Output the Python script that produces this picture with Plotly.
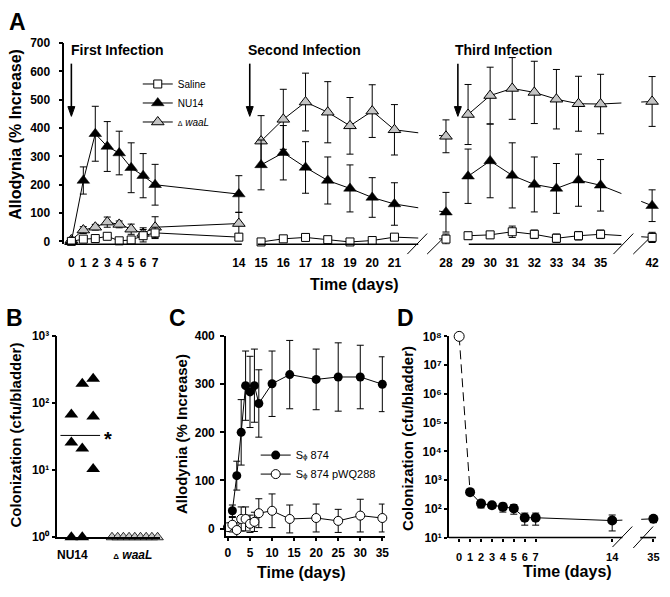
import numpy as np
import plotly.graph_objects as go

W, H = 670, 597
FONT = "Liberation Sans, Arial, sans-serif"


def fx(p):
    return p / W


def fy(p):
    return 1 - p / H


# ======================= DATA =======================
# Panel A - allodynia (% increase) across three infections
a_days_1 = [0, 1, 2, 3, 4, 5, 6, 7, 14]
a_saline_1 = [0, 8, 10, 18, 2, 5, 20, 30, 15]
a_saline_1_err = [0, 5, 5, 8, 5, 8, 22, 20, 12]
a_nu14_1 = [0, 215, 380, 335, 312, 260, 232, 200, 167]
a_nu14_1_err = [0, 48, 97, 88, 77, 88, 78, 72, 65]
a_waal_1 = [5, 40, 50, 68, 60, 43, 28, 50, 63]
a_waal_1_err = [0, 12, 10, 18, 12, 18, 20, 37, 40]

a_days_2 = [15, 16, 17, 18, 19, 20, 21, 28]
a_saline_2 = [-2, 9, 14, 6, -2, 3, 15, 8]
a_saline_2_err = [5, 8, 8, 8, 5, 10, 8, 18]
a_nu14_2 = [270, 313, 261, 215, 187, 155, 132, 103]
a_nu14_2_err = [88, 96, 91, 83, 83, 70, 75, 70]
a_waal_2 = [354, 431, 492, 456, 408, 460, 394, 371]
a_waal_2_err = [90, 106, 102, 108, 100, 93, 89, 58]

a_days_3 = [29, 30, 31, 32, 33, 34, 35, 42]
a_saline_3 = [20, 23, 34, 25, 11, 20, 25, 14]
a_saline_3_err = [12, 12, 20, 15, 15, 15, 15, 18]
a_nu14_3 = [230, 284, 233, 201, 187, 216, 198, 126]
a_nu14_3_err = [96, 130, 115, 97, 88, 92, 91, 56]
a_waal_3 = [448, 515, 540, 526, 502, 486, 485, 494]
a_waal_3_err = [106, 100, 109, 110, 105, 97, 105, 88]

a_tick_days = [0, 1, 2, 3, 4, 5, 6, 7, 14, 15, 16, 17, 18, 19, 20, 21,
               28, 29, 30, 31, 32, 33, 34, 35, 42]
a_yticks = [0, 100, 200, 300, 400, 500, 600, 700]
a_infection_labels = ["First Infection", "Second Infection", "Third Infection"]

# Panel B - colonization at end point
b_groups = ["NU14", "Δ waaL"]
b_nu14 = [68, 194, 231, 63, 26, 21, 10.4, 1, 1]
b_nu14_col = [0, 1, 2, 2, 0, 1, 2, 0, 1]
b_waal = [1, 1, 1, 1, 1, 1, 1, 1, 1]
b_nu14_center = 33
b_yticks = [1, 10, 100, 1000]

# Panel C - allodynia, S-phi 874 vs S-phi 874 pWQ288
c_days_s874 = [1, 2, 3, 4, 5, 6, 7, 10, 14, 20, 25, 30, 35]
c_s874 = [37, 110, 200, 297, 284, 297, 260, 301, 320, 310, 315, 315, 300]
c_s874_err = [12, 30, 68, 72, 74, 76, 70, 68, 71, 63, 71, 66, 57]
c_days_pwq = [0, 1, 2, 3, 4, 5, 6, 7, 10, 14, 20, 25, 30, 35]
c_pwq = [3, 8, -3, 20, 20, 10, 14, 32, 37, 20, 22, 16, 27, 22]
c_pwq_err = [5, 15, 15, 25, 25, 18, 20, 30, 35, 29, 29, 24, 34, 29]
c_xticks = [0, 5, 10, 15, 20, 25, 30, 35]
c_yticks = [0, 100, 200, 300, 400]

# Panel D - colonization over time
d_inoculum_day = 0
d_inoculum = 1e8
d_days = [1, 2, 3, 4, 5, 6, 7, 14, 35]
d_cfu = [380, 152, 134, 117, 103, 49, 49, 39, 45]
d_cfu_err = [60, 45, 30, 40, 38, 22, 22, 22, 12]
d_tick_days = [0, 1, 2, 3, 4, 5, 6, 7, 14, 35]
d_yticks = [10, 100, 1000, 1e4, 1e5, 1e6, 1e7, 1e8]

# ======================= SCALES (broken axes) =======================
A_KNOT_DAYS = [0, 14, 21, 28, 35, 42]
A_KNOT_PX = [71, 240, 397, 449, 605, 657]
D_KNOT_DAYS = [0, 14, 35]
D_KNOT_PX = [462.3, 616.7, 658.3]


def a_pos(days):
    return np.interp(days, A_KNOT_DAYS, A_KNOT_PX)


def d_pos(days):
    return np.interp(days, D_KNOT_DAYS, D_KNOT_PX)


SUPS = "⁰¹²³⁴⁵⁶⁷⁸⁹"


def sup(v):
    return "10" + SUPS[int(round(np.log10(v)))]


# ======================= FIGURE =======================
fig = go.Figure()


def err(arr, w=3.5):
    return dict(type="data", array=arr, visible=True, color="black",
                thickness=1, width=w)


LINE = dict(color="black", width=1)
saline_m = dict(symbol="square", size=8, color="white", line=dict(color="black", width=1))
nu14_m = dict(symbol="triangle-up", size=11, color="black", line=dict(color="black", width=0.5))
waal_m = dict(symbol="triangle-up", size=11, color="#c4c4c4", line=dict(color="black", width=1))
WAAL_LABEL = "<span style='font-size:7px'>Δ</span> <i>waaL</i>"

series_a = [
    (WAAL_LABEL, waal_m, 3, [(a_days_1, a_waal_1, a_waal_1_err),
                             (a_days_2, a_waal_2, a_waal_2_err),
                             (a_days_3, a_waal_3, a_waal_3_err)]),
    ("NU14", nu14_m, 2, [(a_days_1, a_nu14_1, a_nu14_1_err),
                         (a_days_2, a_nu14_2, a_nu14_2_err),
                         (a_days_3, a_nu14_3, a_nu14_3_err)]),
    ("Saline", saline_m, 1, [(a_days_1, a_saline_1, a_saline_1_err),
                             (a_days_2, a_saline_2, a_saline_2_err),
                             (a_days_3, a_saline_3, a_saline_3_err)]),
]
for label, marker, rank, segs in series_a:
    for i, (d, v, e) in enumerate(segs):
        fig.add_trace(go.Scatter(
            x=a_pos(d), y=v, error_y=err(e), mode="lines+markers",
            line=LINE, marker=marker, name=label, legend="legend",
            legendrank=rank, showlegend=(i == 0), cliponaxis=False,
            xaxis="x", yaxis="y"))

# Panel B
B_NU14_X0, B_NU14_STEP = 71, 11
B_WAAL_X0, B_WAAL_STEP = 112, 5.75
fig.add_trace(go.Scatter(
    x=[B_NU14_X0 + B_NU14_STEP * c for c in b_nu14_col], y=b_nu14,
    mode="markers", marker=dict(symbol="triangle-up", size=12, color="black"),
    showlegend=False, cliponaxis=False, xaxis="x2", yaxis="y2"))
fig.add_trace(go.Scatter(
    x=[B_WAAL_X0 + B_WAAL_STEP * i for i in range(len(b_waal))], y=b_waal,
    mode="markers",
    marker=dict(symbol="triangle-up", size=10, color="#c8c8c8", line=dict(color="black", width=0.8)),
    showlegend=False, cliponaxis=False, xaxis="x2", yaxis="y2"))
fig.add_trace(go.Scatter(
    x=[60, 100], y=[b_nu14_center, b_nu14_center], mode="lines", line=LINE,
    showlegend=False, xaxis="x2", yaxis="y2"))

# Panel C
S874 = "S<span style='font-size:8px'>ϕ</span> 874"
fig.add_trace(go.Scatter(
    x=c_days_pwq, y=c_pwq, error_y=err(c_pwq_err), mode="lines+markers", line=LINE,
    marker=dict(symbol="circle", size=9, color="white", line=dict(color="black", width=1)),
    name=S874 + " pWQ288", legend="legend2", legendrank=2, cliponaxis=False,
    xaxis="x3", yaxis="y3"))
fig.add_trace(go.Scatter(
    x=c_days_s874, y=c_s874, error_y=err(c_s874_err), mode="lines+markers", line=LINE,
    marker=dict(symbol="circle", size=9, color="black"),
    name=S874, legend="legend2", legendrank=1, cliponaxis=False,
    xaxis="x3", yaxis="y3"))

# Panel D
fig.add_trace(go.Scatter(
    x=d_pos([d_inoculum_day, d_days[0]]), y=[d_inoculum, d_cfu[0]], mode="lines",
    line=dict(color="black", width=1, dash="9px,5px"),
    showlegend=False, cliponaxis=False, xaxis="x4", yaxis="y4"))
fig.add_trace(go.Scatter(
    x=d_pos(d_days), y=d_cfu, error_y=err(d_cfu_err), mode="lines+markers", line=LINE,
    marker=dict(symbol="circle", size=10, color="black"),
    showlegend=False, cliponaxis=False, xaxis="x4", yaxis="y4"))
fig.add_trace(go.Scatter(
    x=d_pos([d_inoculum_day]), y=[d_inoculum], mode="markers",
    marker=dict(symbol="circle", size=10, color="white", line=dict(color="black", width=1)),
    showlegend=False, cliponaxis=False, xaxis="x4", yaxis="y4"))

# ======================= AXES =======================
TICKFONT = dict(family=FONT, size=12, color="black", weight="bold")
base = dict(showgrid=False, zeroline=False, linecolor="black", linewidth=1.6,
            tickcolor="black", tickwidth=1.5, tickfont=TICKFONT, fixedrange=True)

layout_axes = dict(
    xaxis=dict(base, domain=[fx(64), fx(665)], range=[64, 665], showline=False,
               ticks="", tickvals=a_pos(a_tick_days), ticktext=[str(d) for d in a_tick_days],
               anchor="y", ticklabelstandoff=10),
    yaxis=dict(base, domain=[fy(243), fy(37)], range=[-10.3, 700], showline=True,
               ticks="outside", ticklen=4, tickvals=a_yticks, anchor="x",
               ticklabelstandoff=6),
    xaxis2=dict(base, domain=[fx(57), fx(160)], range=[57, 160], showline=True,
                ticks="", tickvals=[72, 133],
                ticktext=["NU14", "<span style='font-size:8px'>Δ</span> <i>waaL</i>"],
                anchor="y2", ticklabelstandoff=6),
    yaxis2=dict(base, domain=[fy(543), fy(337)], type="log", range=[0, 3], showline=True,
                ticks="outside", ticklen=4, tickvals=b_yticks,
                ticktext=[sup(v) for v in b_yticks], anchor="x2"),
    xaxis3=dict(base, domain=[fx(227), fx(387)], range=[-0.45, 35.5], showline=True,
                ticks="outside", ticklen=3, tickvals=c_xticks, anchor="y3",
                ticklabelstandoff=2),
    yaxis3=dict(base, domain=[fy(542), fy(337)], range=[-16, 400], showline=True,
                ticks="outside", ticklen=4, tickvals=c_yticks, anchor="x3",
                ticklabelstandoff=3),
    xaxis4=dict(base, domain=[fx(452), fx(665)], range=[452, 665], showline=False,
                ticks="outside", ticklen=3, tickvals=d_pos(d_tick_days),
                ticktext=[str(d) for d in d_tick_days], anchor="y4", ticklabelstandoff=6,
                tickfont=dict(TICKFONT, size=11)),
    yaxis4=dict(base, domain=[fy(543.3), fy(337.3)], type="log", range=[1, 8], showline=True,
                ticks="outside", ticklen=3, tickvals=d_yticks,
                ticktext=[sup(v) for v in d_yticks], anchor="x4"),
)

# ======================= SHAPES (axis pieces, breaks, arrows) =======================
shapes = []


def hline(x0, x1, y, w=1.6):
    shapes.append(dict(type="line", xref="paper", yref="paper", x0=fx(x0), x1=fx(x1),
                       y0=fy(y), y1=fy(y), line=dict(color="black", width=w)))


def seg(x0, y0, x1, y1, w=1.0):
    shapes.append(dict(type="line", xref="paper", yref="paper", x0=fx(x0), x1=fx(x1),
                       y0=fy(y0), y1=fy(y1), line=dict(color="black", width=w)))


def mask(x0, x1, y0, y1):
    shapes.append(dict(type="rect", xref="paper", yref="paper", x0=fx(x0), x1=fx(x1),
                       y0=fy(y1), y1=fy(y0), fillcolor="white", line=dict(width=0),
                       layer="above"))


def arrow(px, y_tail, y_head):
    seg(px, y_tail, px, y_head - 8, w=1.6)
    path = "M %.5f %.5f L %.5f %.5f L %.5f %.5f Z" % (
        fx(px - 3.5), fy(y_head - 10), fx(px + 3.5), fy(y_head - 10), fx(px), fy(y_head))
    shapes.append(dict(type="path", xref="paper", yref="paper", path=path,
                       fillcolor="black", line=dict(color="black", width=1)))


# gaps of the broken axes (hide the connecting line inside the gap)
mask(421, 442, 30, 242)
mask(626, 646, 30, 242)
mask(627, 646, 330, 542)
# x-axis pieces
hline(64, 243, 243)
hline(259, 421, 243)
hline(472, 626, 243)
hline(452, 627, 543.3)
hline(645, 661, 543.3)
# break marks
seg(410, 253, 430, 232)
seg(430, 253, 445, 238)
seg(618, 253, 638, 232)
seg(638, 253, 653, 238)
seg(617, 553, 637, 532)
seg(638, 554, 658, 532)
# infection arrows
for px in [71, 251, 461]:
    arrow(px, 58, 112)

# ======================= ANNOTATIONS =======================
ann = []


def text(px, py, t, size, xanchor="center", angle=0, weight="bold"):
    ann.append(dict(x=fx(px), y=fy(py), xref="paper", yref="paper", text=t,
                    showarrow=False, xanchor=xanchor, yanchor="middle", textangle=angle,
                    font=dict(family=FONT, size=size, color="black", weight=weight)))


for lbl, (px, py) in zip("ABCD", [(17, 15), (14, 318), (178, 318), (408, 318)]):
    text(px, py, lbl, 23)
for lbl, px in zip(a_infection_labels, [69, 247, 456]):
    text(px, 44, lbl, 14, xanchor="left")
text(15, 130, "Allodynia (% Increase)", 16, angle=-90)
text(357, 284, "Time (days)", 16)
text(15, 438, "Colonization (cfu/bladder)", 15, angle=-90)
text(108, 442, "*", 20)
text(182, 437, "Allodynia (% Increase)", 15, angle=-90)
text(303, 579, "Time (days)", 16)
text(410, 442, "Colonization (cfu/bladder)", 15, angle=-90)
text(572, 578, "Time (days)", 16)

fig.update_layout(
    width=W, height=H, margin=dict(l=0, r=0, t=0, b=0),
    paper_bgcolor="white", plot_bgcolor="white",
    font=dict(family=FONT, color="black"),
    showlegend=True,
    legend=dict(x=fx(138), y=fy(64), xanchor="left", yanchor="top",
                bgcolor="rgba(0,0,0,0)", font=dict(family=FONT, size=10, color="black"),
                tracegroupgap=0, itemwidth=30),
    legend2=dict(x=fx(257), y=fy(444), xanchor="left", yanchor="top",
                 bgcolor="rgba(0,0,0,0)", font=dict(family=FONT, size=11, color="black"),
                 tracegroupgap=0, itemwidth=30),
    shapes=shapes, annotations=ann,
    **layout_axes,
)

fig.write_html("out.html", config={"displayModeBar": False},
               post_script="document.body.style.margin='0px';")
